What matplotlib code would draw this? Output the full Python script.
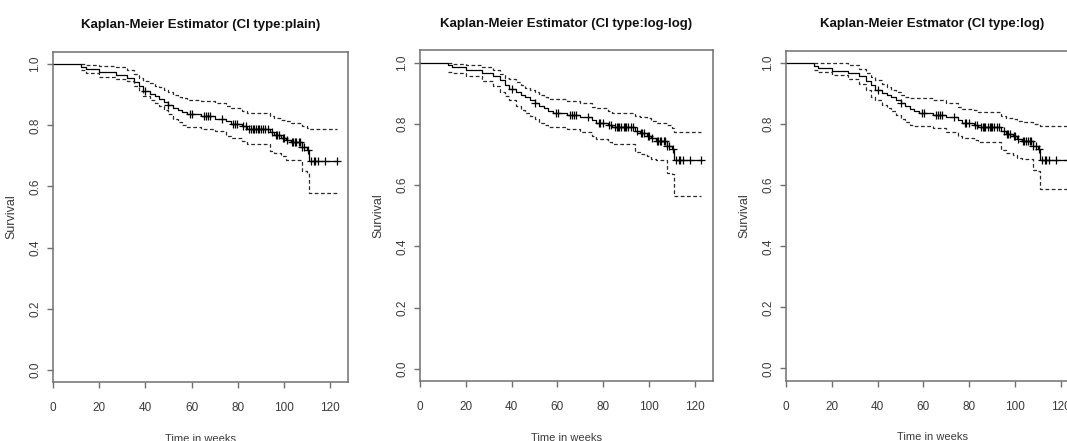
import numpy as np
import matplotlib
matplotlib.use("Agg")
import matplotlib.pyplot as plt

plt.rcParams['font.family'] = ['Liberation Sans', 'DejaVu Sans']

# Event times (weeks) and Kaplan-Meier survival just after each event
event_times = [12, 14, 20, 27, 32, 35, 37, 39, 42, 44, 46, 48, 50, 52, 54, 56, 58,
               64, 70, 75, 77, 82, 84, 94, 96, 99, 101, 103, 108, 110, 111]
survival = [0.991, 0.984, 0.975, 0.966, 0.956, 0.942, 0.928, 0.913, 0.903, 0.895,
            0.887, 0.878, 0.868, 0.858, 0.850, 0.843, 0.836, 0.829, 0.822, 0.813,
            0.804, 0.797, 0.789, 0.778, 0.769, 0.760, 0.752, 0.745, 0.728, 0.719, 0.683]
last_time = 123

# Censoring times (drawn as + marks on the curve)
censor_times = [40, 50, 59.3, 60.4, 65.3, 66.2, 67.2, 67.9, 73.4, 78, 78.8, 79.8,
                82.5, 83.5, 85, 86, 86.5, 87, 88, 89, 89.5, 90, 91, 92, 93,
                95, 96.5, 97, 98, 99.5, 100, 101.5, 103.5, 104, 105, 105.5,
                106.5, 107, 108, 109, 110.5, 112, 113, 113.5, 115, 118, 123]

# Confidence limits on the same event grid, one pair per CI type
upper_plain = [1.000, 0.998, 0.995, 0.990, 0.981, 0.967, 0.955, 0.945, 0.937, 0.930,
               0.925, 0.916, 0.908, 0.900, 0.893, 0.888, 0.884, 0.880, 0.873, 0.864,
               0.857, 0.848, 0.842, 0.831, 0.825, 0.819, 0.814, 0.808, 0.799, 0.792, 0.787]
lower_plain = [0.980, 0.972, 0.958, 0.952, 0.944, 0.930, 0.913, 0.897, 0.884, 0.872,
               0.862, 0.850, 0.836, 0.822, 0.810, 0.801, 0.795, 0.789, 0.781, 0.766,
               0.758, 0.748, 0.740, 0.716, 0.708, 0.699, 0.688, 0.686, 0.649, 0.645, 0.580]

upper_loglog = [0.998, 0.995, 0.991, 0.984, 0.976, 0.962, 0.950, 0.945, 0.935, 0.927,
                0.918, 0.910, 0.903, 0.893, 0.886, 0.881, 0.880, 0.876, 0.868, 0.855,
                0.850, 0.842, 0.836, 0.825, 0.822, 0.818, 0.810, 0.803, 0.795, 0.786, 0.774]
lower_loglog = [0.970, 0.965, 0.955, 0.940, 0.925, 0.905, 0.890, 0.878, 0.858, 0.846,
                0.835, 0.826, 0.815, 0.804, 0.797, 0.791, 0.789, 0.783, 0.773, 0.760,
                0.751, 0.742, 0.735, 0.708, 0.702, 0.694, 0.684, 0.681, 0.640, 0.635, 0.564]

upper_log = [1.000, 1.000, 1.000, 0.992, 0.980, 0.968, 0.955, 0.945, 0.930, 0.922,
             0.913, 0.905, 0.896, 0.890, 0.886, 0.885, 0.884, 0.880, 0.869, 0.855,
             0.850, 0.845, 0.839, 0.826, 0.820, 0.815, 0.810, 0.807, 0.801, 0.798, 0.795]
lower_log = [0.976, 0.970, 0.960, 0.948, 0.930, 0.910, 0.890, 0.878, 0.862, 0.852,
             0.843, 0.830, 0.815, 0.806, 0.798, 0.795, 0.794, 0.786, 0.773, 0.762,
             0.755, 0.747, 0.740, 0.714, 0.706, 0.698, 0.690, 0.686, 0.651, 0.645, 0.586]

titles = ["Kaplan-Meier Estimator (CI type:plain)",
          "Kaplan-Meier Estimator (CI type:log-log)",
          "Kaplan-Meier Estmator (CI type:log)"]
x_ticks = [0, 20, 40, 60, 80, 100, 120]
y_ticks = [0.0, 0.2, 0.4, 0.6, 0.8, 1.0]

W, H = 1067, 441
fig = plt.figure(figsize=(W / 100, H / 100), dpi=100)

# Panel boxes in pixels: left, top, right, bottom
boxes = [(53.3, 52, 348.0, 382),
         (420.3, 50.3, 712.7, 381),
         (786.3, 50.7, 1078.8, 380.7)]
ci_sets = [(upper_plain, lower_plain), (upper_loglog, lower_loglog), (upper_log, lower_log)]

spine_col = '#707070'
text_col = '#3a3a3a'

for (l, t, r, b), title, (up, lo) in zip(boxes, titles, ci_sets):
    ax = fig.add_axes([l / W, 1 - b / H, (r - l) / W, (b - t) / H])
    ax.set_xlim(0, last_time * 1.04)
    ax.set_ylim(-0.04, 1.04)

    xs = [0] + list(event_times) + [last_time]
    ys = [1.0] + list(survival) + [survival[-1]]
    ax.step(xs, ys, where='post', color='black', lw=0.9)

    # confidence limits start at the first event
    ux = list(event_times) + [last_time]
    ax.step(ux, list(up) + [up[-1]], where='post', color='#2a2a2a', lw=0.9, dashes=(3, 2))
    ax.step(ux, list(lo) + [lo[-1]], where='post', color='#2a2a2a', lw=0.9, dashes=(3, 2))

    # censor marks sit on the step curve
    idx = np.searchsorted(np.array(event_times), np.array(censor_times), side='right') - 1
    s_all = np.array(survival)
    cy = np.where(idx >= 0, s_all[np.clip(idx, 0, None)], 1.0)
    ax.plot(censor_times, cy, linestyle='none', marker='+', color='black',
            markersize=6, markeredgewidth=0.9)

    for sp in ax.spines.values():
        sp.set_color(spine_col)
        sp.set_linewidth(1.1)
    ax.set_xticks(x_ticks)
    ax.set_xticklabels([str(v) for v in x_ticks])
    ax.set_yticks(y_ticks)
    ax.set_yticklabels([f"{v:.1f}" for v in y_ticks], rotation=90, va='center')
    ax.tick_params(axis='both', colors=spine_col, labelcolor=text_col,
                   labelsize=8.5, length=4, width=1.0)
    ax.tick_params(axis='x', pad=10.5)
    ax.tick_params(axis='y', pad=4.5)

    ax.set_title(title, fontsize=9.5, fontweight='bold', color='#111111', pad=17)
    ax.set_xlabel("Time in weeks", fontsize=8, color=text_col, labelpad=14)
    ax.set_ylabel("Survival", fontsize=9, color=text_col, labelpad=9)

fig.savefig("out.png", dpi=100)
